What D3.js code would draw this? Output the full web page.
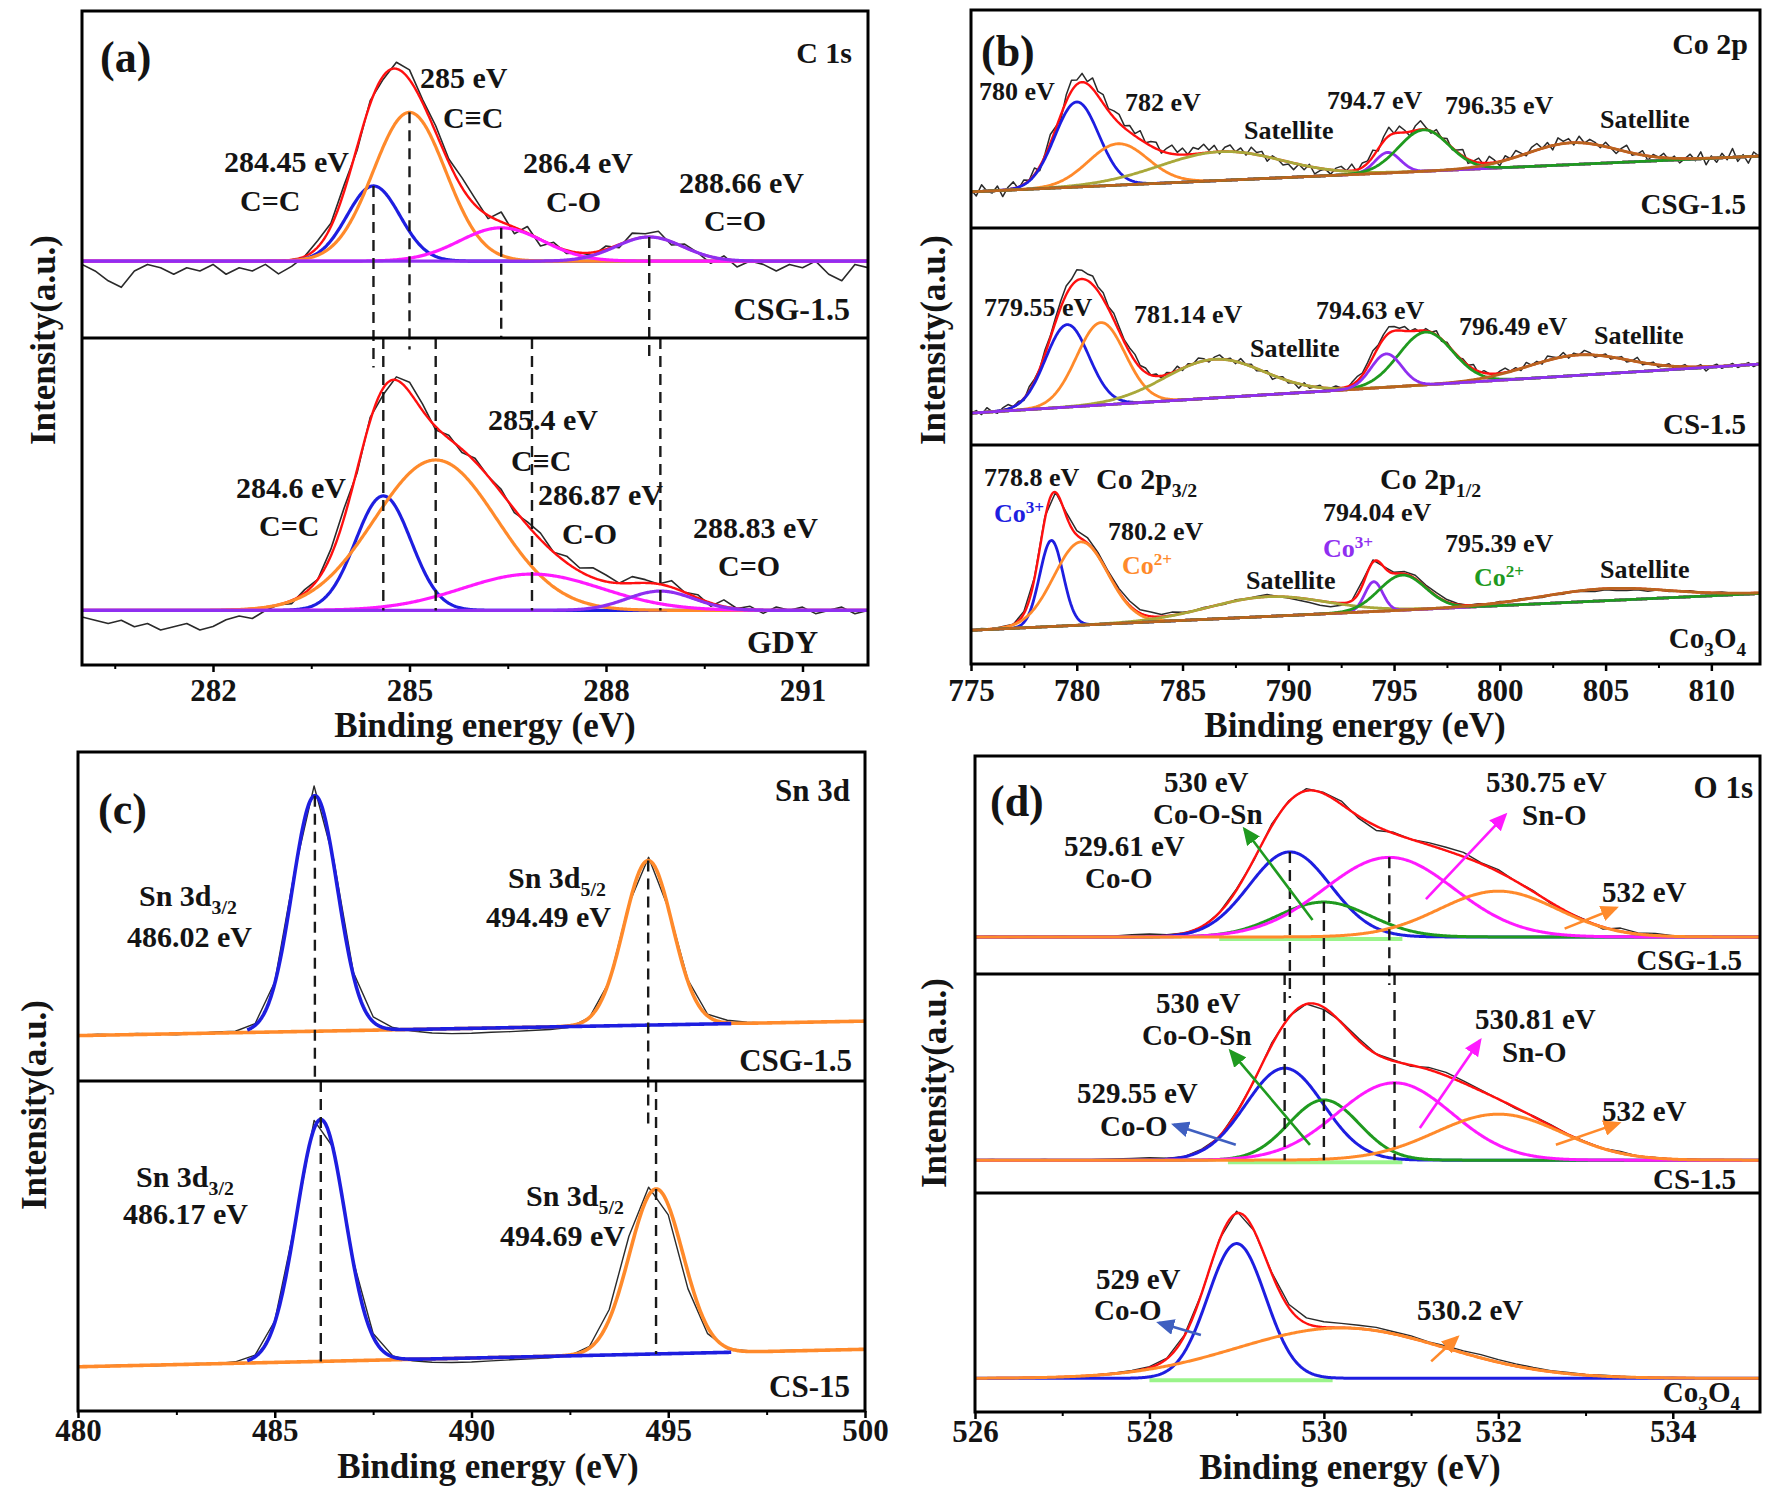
<!DOCTYPE html>
<html>
<head>
<meta charset="utf-8">
<script src="https://cdn.jsdelivr.net/npm/d3@7"></script>
<style>
  body { margin: 0; background: #fff; }
  text { font-family: "Liberation Serif", "Times New Roman", serif; font-weight: bold; }
</style>
</head>
<body>
<script>
var W = 1772, H = 1489;

// colours used by the fits
var BLUE = '#1e1ee0', ORANGE = '#ff8a2b', MAGENTA = '#ff1aff', PURPLE = '#8f2ff0',
    GREEN = '#1f9a1f', OLIVE = '#a9a83a', BROWN = '#b9641f', RED = '#ff1010',
    LIME = '#9af48a', ARROWBLUE = '#3f5fc0', INK = '#141414';

// ---------- (a) C 1s ----------
var c1sDomain = [280, 292];
var c1sTicks = [282, 285, 288, 291];
var c1sMinor = [280.5, 283.5, 286.5, 289.5];
// peaks: [centre eV, height %, fwhm eV]
var c1sCSGBase = [23.5, 23.5];
var c1sCSGPeaks = [[284.45, 23, 0.95], [285.0, 45.5, 1.3], [286.4, 10.2, 1.5], [288.66, 7.4, 1.2]];
var c1sGDYBase = [16.7, 16.7];
var c1sGDYPeaks = [[284.6, 35, 1.0], [285.4, 46, 2.2], [286.87, 11.1, 2.5], [288.83, 5.9, 1.2]];
var c1sColors = [BLUE, ORANGE, MAGENTA, PURPLE];
// raw minus fit, every 0.2 eV
var c1sCSGNoise = [-1,-3,-6,-8,-3,-1,-2,-4,-2,-3,
  -1,-4,-2,-3,-1,-4,-2,0,2,1,
  2,-1,1,-1,2,3,1,2,1,3,
  2,-1,3,-2,2,-2,1,-1,0,-1,
  1,-1,2,1,2,-1,1,0,-2,1,
  -2,0,-1,-3,-1,-2,0,-4,-6,-1,
  -2];
var c1sGDYNoise = [-2,-3,-4,-3,-5,-4,-6,-5,-4,-6,
  -5,-3,-2,-3,-1,0,-1,1,0,2,
  3,-1,1,-2,1,3,2,-1,1,-1,
  1,0,1,-1,1,2,0,2,1,3,
  2,0,2,1,0,2,0,1,-1,2,
  0,1,-1,1,0,1,-1,0,1,-1,
  0];
var c1sCSGDashEnd = [-9, -3.5, 0, -5.5];

// ---------- (b) Co 2p ----------
var co2pDomain = [775, 812.3];
var co2pTicks = [775, 780, 785, 790, 795, 800, 805, 810];
var co2pMinor = [777.5, 782.5, 787.5, 792.5, 797.5, 802.5, 807.5];
var co2pCSGBase = [16.6, 33.0];
var co2pCSGPeaks = [[780.0, 39, 2.45], [781.95, 19, 3.3], [786.8, 13.2, 6.8], [794.7, 9.4, 1.4], [796.4, 19, 2.8], [803.4, 10, 5.0]];
var co2pCSBase = [14.7, 37.3];
var co2pCSPeaks = [[779.55, 38, 2.4], [781.14, 38, 2.7], [786.5, 17.8, 5.5], [794.63, 15.4, 1.7], [796.49, 24.3, 3.0], [803.7, 9.4, 5.5]];
var co2pCoBase = [15.4, 32.2];
var co2pCoPeaks = [[778.8, 39.3, 1.3], [780.2, 38, 3.0], [789.0, 9, 6.5], [794.04, 13.6, 1.0], [795.39, 16, 2.6], [805.0, 5.5, 7.0]];
var co2pColors = [BLUE, ORANGE, OLIVE, PURPLE, GREEN, BROWN];
// raw minus fit, every 0.25 eV
var co2pCSGNoise = [1,-2,3,0,-1,2,-3,1,3,-1,2,0,3,-2,1,
  4,1,-2,3,5,2,4,1,5,2,4,1,3,4,1,
  3,1,4,0,2,3,-1,2,4,1,3,0,3,2,4,
  1,3,-1,2,3,0,2,-1,3,1,2,-2,1,0,-2,
  -1,-3,0,-2,1,-3,-1,0,-2,1,2,0,3,-1,2,
  1,3,-1,2,4,0,3,1,-2,2,4,1,-1,2,0,
  2,-1,1,3,-2,0,2,-1,3,1,-2,2,0,3,1,
  -1,2,3,0,2,-2,3,1,2,-1,3,0,2,1,-1,
  2,0,-2,1,3,-1,0,2,-2,1,0,2,-1,1,-2,
  0,2,-1,3,-3,1,-2,2,-1,4,-2,1,-3,2,0];
var co2pCSNoise = [0,1,-1,2,0,-1,1,2,0,1,-1,2,1,0,2,
  1,2,3,4,3,5,4,3,4,2,3,1,3,2,1,
  2,3,1,2,0,1,-1,1,0,2,-1,1,0,2,1,
  -1,1,2,0,1,-1,2,0,1,-1,0,1,-2,0,1,
  -1,0,-2,1,-1,0,1,-1,0,1,0,-1,1,2,1,
  2,3,1,2,3,2,1,2,0,1,-1,1,0,2,-1,
  1,0,-1,1,0,2,-1,1,0,-1,1,2,0,1,-1,
  2,0,1,-1,2,1,0,2,-1,1,0,2,1,-1,0,
  1,-1,0,1,-1,0,2,-1,0,1,-1,0,1,-1,0,
  1,-1,0,1,-2,0,1,-1,0,1,-1,0,1,-1,0];
// every 0.5 eV
var co2pCoNoise = [0,0.5,0,0.5,0,1,0.5,1,0,1.5,
  2,2.5,1.5,1,1.5,2,1.5,2,1,1.5,
  0.5,0,0.5,0,-0.5,0.5,0,0.5,1,0,
  -0.5,-1,-1.5,-2,-2,-1,0,2,1,0,
  0.5,1,1.5,1,1.5,1,0.5,0,0.5,0,
  0.5,0,0.5,0,-0.5,0,-0.5,0,-0.5,-1,
  -0.5,-1,-1,-0.5,-1,0,-0.5,0,0.5,0,
  0,0.5,0,0,0,0];

// ---------- (c) Sn 3d ----------
var sn3dDomain = [480, 500];
var sn3dTicks = [480, 485, 490, 495, 500];
var sn3dMinor = [482.5, 487.5, 492.5, 497.5];
var sn3dCSGBase = [13.8, 18.2];
var sn3dCSGPeaks = [[486.02, 71.6, 1.35], [494.49, 50, 1.45]];
var sn3dCSBase = [13.4, 18.7];
var sn3dCSPeaks = [[486.17, 73.3, 1.45], [494.69, 50, 1.6]];
var sn3dColors = [BLUE, ORANGE];
var sn3dRanges = [[484.3, 496.6], [480, 500]];
// every 0.5 eV
var sn3dCSGNoise = [0,0.3,0,0.3,0,-0.3,0,0.3,0.3,0.5,
  0.5,1,3,1.5,1,1.5,0.5,-0.5,-1.2,-1.5,
  -1.5,-1.3,-1.2,-1,-0.8,-0.5,0,-0.3,0.5,1,
  0,0.5,0.5,0.8,0.3,0,0.2,-0.2,0,0.2,
  0];
var sn3dCSNoise = [0,0,0.2,0,-0.2,0,0.2,0,0.3,0.5,
  0.5,0.5,2.5,1,0.5,1,0.3,-0.5,-1,-1.2,
  -1.2,-1,-0.8,-0.6,-0.5,-0.2,0.5,3,6,2.5,
  -3,-5,-2,-0.3,0.2,0,0.2,0.3,0,0.2,
  0];
var sn3dCSGDashEnd = [0, -14];

// ---------- (d) O 1s ----------
var o1sDomain = [526, 535];
var o1sTicks = [526, 528, 530, 532, 534];
var o1sMinor = [527, 529, 531, 533];
var o1sCSGBase = [17, 17];
var o1sCSGPeaks = [[529.61, 39, 1.1], [530.0, 16, 1.25], [530.75, 36.5, 1.75], [532.0, 21, 1.6]];
var o1sCSBase = [15, 15];
var o1sCSPeaks = [[529.55, 42, 1.05], [530.0, 27.5, 0.95], [530.81, 35.3, 1.55], [532.0, 21, 1.7]];
var o1sCoBase = [15.4, 15.4];
var o1sCoPeaks = [[529.0, 61.5, 0.78], [530.2, 23, 2.8]];
var o1sColors = [BLUE, GREEN, MAGENTA, ORANGE];
var o1sCoColors = [BLUE, ORANGE];
var o1sBands = [[528.8, 530.9], [528.9, 530.9], [528.0, 530.1]];
// every 0.2 eV
var o1sCSGNoise = [0,0.5,-0.5,0.3,0,0.3,0,0.3,0.5,1,
  1.2,0.5,0,-0.5,0,0.5,-0.5,1,0.5,1,
  0.5,1.5,-1,-2,0.5,0,1,1.5,2,0.5,
  1,0,0.5,-0.5,0,0.3,-1,1.5,0.5,1,
  0.3,0,0.3,0,0.2,0];
var o1sCSNoise = [0,0.3,-0.3,0,0.3,-0.3,0,0.3,0.5,0.8,
  1,0.5,0,0.5,-0.5,0.5,-0.5,1,0.5,0,
  -1,0.5,1,0,0.5,-0.5,1,1.5,1,0.5,
  0,-0.5,0.3,0.5,0,0.3,0,0.8,0,0.3,
  0,0.2,0,0.2,0,0];
var o1sCoNoise = [0,0,0,0,0,0,0,0.2,0.3,0.5,
  0.5,0.3,0.5,0,0.5,1,0,0.5,1.5,2.5,
  2.5,2,1.5,1.5,1,1,0.5,1,1,1.5,
  1.2,1,0.8,0.5,0.5,0.3,0.5,0.3,0.2,0,
  0.2,0,0.1,0,0,0];
var o1sCSGDashEnd = [-11, 0, -5, null];
// arrows: [from eV, from %, to eV, to %]
var o1sCSGArrows = [[529.87, 24.8, 529.09, 66.4], [531.17, 34.3, 532.08, 73], [532.76, 20.8, 533.35, 30.3]];
var o1sCSArrows = [[529.84, 22, 528.93, 64.8], [531.10, 29.7, 531.79, 69.7], [532.66, 22, 533.38, 31.9], [528.99, 22, 528.28, 31.2]];
var o1sCoArrows = [[528.59, 35.2, 528.11, 40.7], [531.23, 23.1, 531.53, 34.1]];

// ---------- annotation texts: [x, y, text, anchor, size, colour] ----------
var c1sLabels = [
  [100, 57, '(a)', 'start', 44], [852, 52, 'C 1s', 'end', 30],
  [420, 77, '285 eV'], [443, 117, 'C≡C'], [224, 161, '284.45 eV'], [240, 200, 'C=C'],
  [523, 162, '286.4 eV'], [546, 201, 'C-O'], [679, 182, '288.66 eV'], [704, 220, 'C=O'],
  [850, 309, 'CSG-1.5', 'end', 32],
  [488, 419, '285.4 eV'], [511, 460, 'C≡C'], [236, 487, '284.6 eV'], [259, 525, 'C=C'],
  [538, 494, '286.87 eV'], [562, 533, 'C-O'], [693, 527, '288.83 eV'], [718, 565, 'C=O'],
  [818, 642, 'GDY', 'end', 32]
];
var co2pLabels = [
  [981, 51, '(b)', 'start', 44], [1748, 43, 'Co 2p', 'end', 30],
  [979, 91, '780 eV'], [1125, 102, '782 eV'], [1244, 130, 'Satellite'], [1327, 100, '794.7 eV'],
  [1445, 105, '796.35 eV'], [1600, 119, 'Satellite'], [1746, 204, 'CSG-1.5', 'end', 29],
  [984, 307, '779.55 eV'], [1134, 314, '781.14 eV'], [1250, 348, 'Satellite'], [1316, 310, '794.63 eV'],
  [1459, 326, '796.49 eV'], [1594, 335, 'Satellite'], [1746, 424, 'CS-1.5', 'end', 29],
  [984, 477, '778.8 eV'], [1096, 478, 'Co 2p_{3/2}', 'start', 30], [994, 513, 'Co^{3+}', 'start', 26, BLUE],
  [1108, 531, '780.2 eV'], [1122, 565, 'Co^{2+}', 'start', 26, ORANGE], [1246, 580, 'Satellite'],
  [1380, 478, 'Co 2p_{1/2}', 'start', 30], [1323, 512, '794.04 eV'], [1323, 548, 'Co^{3+}', 'start', 26, PURPLE],
  [1445, 543, '795.39 eV'], [1474, 577, 'Co^{2+}', 'start', 26, GREEN], [1600, 569, 'Satellite'],
  [1746, 638, 'Co_{3}O_{4}', 'end', 29]
];
var sn3dLabels = [
  [98, 809, '(c)', 'start', 44], [850, 790, 'Sn 3d', 'end', 31],
  [139, 895, 'Sn 3d_{3/2}'], [127, 936, '486.02 eV'], [508, 877, 'Sn 3d_{5/2}'], [486, 916, '494.49 eV'],
  [852, 1060, 'CSG-1.5', 'end', 31],
  [136, 1176, 'Sn 3d_{3/2}'], [123, 1213, '486.17 eV'], [526, 1195, 'Sn 3d_{5/2}'], [500, 1235, '494.69 eV'],
  [850, 1386, 'CS-15', 'end', 31]
];
var o1sLabels = [
  [990, 801, '(d)', 'start', 44], [1753, 787, 'O 1s', 'end', 31],
  [1164, 782, '530 eV'], [1153, 814, 'Co-O-Sn'], [1064, 846, '529.61 eV'], [1085, 878, 'Co-O'],
  [1486, 782, '530.75 eV'], [1522, 815, 'Sn-O'], [1602, 892, '532 eV'], [1742, 960, 'CSG-1.5', 'end', 29],
  [1156, 1003, '530 eV'], [1142, 1035, 'Co-O-Sn'], [1077, 1093, '529.55 eV'], [1100, 1126, 'Co-O'],
  [1475, 1019, '530.81 eV'], [1502, 1052, 'Sn-O'], [1602, 1111, '532 eV'], [1736, 1179, 'CS-1.5', 'end', 29],
  [1096, 1279, '529 eV'], [1094, 1310, 'Co-O'], [1417, 1310, '530.2 eV'], [1740, 1392, 'Co_{3}O_{4}', 'end', 29]
];

var svg = d3.select('body').append('svg').attr('width', W).attr('height', H);
var defs = svg.append('defs');

function gauss(e, p) {
  return p[1] * Math.exp(-4 * Math.LN2 * (e - p[0]) * (e - p[0]) / (p[2] * p[2]));
}

var markerIds = {};
function arrowMarker(color) {
  if (markerIds[color]) return markerIds[color];
  var id = 'arr' + Object.keys(markerIds).length;
  defs.append('marker').attr('id', id).attr('markerUnits', 'userSpaceOnUse')
    .attr('markerWidth', 20).attr('markerHeight', 16).attr('refX', 15).attr('refY', 8)
    .attr('orient', 'auto')
    .append('path').attr('d', 'M0,0 L18,8 L0,16 Z').attr('fill', color);
  markerIds[color] = id;
  return id;
}

function rich(t, str, size) {
  var parts = str.split(/([_^]\{[^}]*\})/).filter(function(s) { return s.length; });
  var cur = 0;
  parts.forEach(function(s) {
    var off = 0, fs = size, txt = s;
    if (s[0] === '_' && s[1] === '{') { off = 0.28 * size; fs = 0.66 * size; txt = s.slice(2, -1); }
    else if (s[0] === '^' && s[1] === '{') { off = -0.36 * size; fs = 0.66 * size; txt = s.slice(2, -1); }
    t.append('tspan').attr('dy', off - cur).style('font-size', fs + 'px').text(txt);
    cur = off;
  });
}

function drawLabels(labels, defSize) {
  labels.forEach(function(l) {
    var size = l[4] || defSize;
    var t = svg.append('text').attr('x', l[0]).attr('y', l[1] + 0.35 * size)
      .attr('text-anchor', l[3] || 'start').attr('fill', l[5] || INK)
      .style('font-size', size + 'px');
    rich(t, l[2], size);
  });
}

function drawPanel(p) {
  var g = svg.append('g');
  var top = p.rows[0], bottom = p.rows[p.rows.length - 1];
  var x = d3.scaleLinear().domain(p.domain).range([p.left, p.right]);
  var clipId = 'clip' + p.id;
  defs.append('clipPath').attr('id', clipId).append('rect')
    .attr('x', p.left).attr('y', top).attr('width', p.right - p.left).attr('height', bottom - top);
  var plot = g.append('g').attr('clip-path', 'url(#' + clipId + ')');
  var grid = d3.range(p.domain[0], p.domain[1] + 1e-9, (p.domain[1] - p.domain[0]) / 800);

  p.spectra.forEach(function(s, i) {
    var y = d3.scaleLinear().domain([0, 100]).range([p.rows[i + 1], p.rows[i]]);
    var base = function(e) {
      return s.base[0] + (s.base[1] - s.base[0]) * (e - p.domain[0]) / (p.domain[1] - p.domain[0]);
    };
    var fit = function(e) { return base(e) + d3.sum(s.peaks, function(pk) { return gauss(e, pk); }); };
    var line = d3.line().x(function(d) { return x(d[0]); }).y(function(d) { return y(d[1]); });

    if (s.band) {
      plot.append('path').attr('d', line([[s.band[0], base(s.band[0])], [s.band[1], base(s.band[1])]]))
        .attr('transform', 'translate(0,2)')
        .attr('stroke', LIME).attr('stroke-width', 4).attr('fill', 'none');
    }

    var step = s.noiseStep || p.noiseStep;
    var raw = s.noise.map(function(n, k) {
      var e = p.noiseStart + k * step;
      return [e, fit(e) + n];
    });
    plot.append('path').attr('d', line(raw)).attr('fill', 'none')
      .attr('stroke', '#2a2a2a').attr('stroke-width', p.rawWidth).attr('stroke-linejoin', 'round');

    if (p.envelope) {
      plot.append('path').attr('d', line(grid.map(function(e) { return [e, fit(e)]; })))
        .attr('fill', 'none').attr('stroke', RED).attr('stroke-width', 2.4);
    }

    var order = s.order || d3.range(s.peaks.length);
    order.forEach(function(j) {
      var pk = s.peaks[j];
      var r = (s.ranges && s.ranges[j]) || p.domain;
      var pts = grid.filter(function(e) { return e >= r[0] && e <= r[1]; })
        .map(function(e) { return [e, base(e) + gauss(e, pk)]; });
      plot.append('path').attr('d', line(pts)).attr('fill', 'none')
        .attr('stroke', s.colors[j]).attr('stroke-width', p.fitWidth).attr('stroke-linejoin', 'round');
    });

    // dashed guide lines at the peak centres
    if (s.dashEnd) {
      s.peaks.forEach(function(pk, j) {
        if (s.dashEnd[j] === null || s.dashEnd[j] === undefined) return;
        plot.append('line').attr('x1', x(pk[0])).attr('x2', x(pk[0]))
          .attr('y1', y(base(pk[0]) + pk[1])).attr('y2', y(s.dashEnd[j]))
          .attr('stroke', '#1a1a1a').attr('stroke-width', 2.4).attr('stroke-dasharray', '11,7');
      });
    }
    if (s.dashAll) {
      s.dashAll.forEach(function(j) {
        var c = s.peaks[j][0];
        plot.append('line').attr('x1', x(c)).attr('x2', x(c))
          .attr('y1', y(100)).attr('y2', y(base(c)))
          .attr('stroke', '#1a1a1a').attr('stroke-width', 2.4).attr('stroke-dasharray', '11,7');
      });
    }

    if (s.arrows) {
      s.arrows.forEach(function(a, k) {
        var col = s.arrowColors[k];
        g.append('line').attr('x1', x(a[0])).attr('y1', y(a[1])).attr('x2', x(a[2])).attr('y2', y(a[3]))
          .attr('stroke', col).attr('stroke-width', 2.6)
          .attr('marker-end', 'url(#' + arrowMarker(col) + ')');
      });
    }
  });

  // frame and row dividers
  g.append('rect').attr('x', p.left).attr('y', top).attr('width', p.right - p.left).attr('height', bottom - top)
    .attr('fill', 'none').attr('stroke', '#000').attr('stroke-width', 3);
  p.rows.slice(1, -1).forEach(function(r) {
    g.append('line').attr('x1', p.left).attr('x2', p.right).attr('y1', r).attr('y2', r)
      .attr('stroke', '#000').attr('stroke-width', 3);
  });

  // x axis
  var minor = g.append('g').attr('transform', 'translate(0,' + bottom + ')')
    .call(d3.axisBottom(x).tickValues(p.minor).tickSize(4).tickFormat(''));
  minor.select('.domain').remove();
  minor.selectAll('line').attr('stroke', '#000').attr('stroke-width', 2);
  var ax = g.append('g').attr('transform', 'translate(0,' + bottom + ')')
    .call(d3.axisBottom(x).tickValues(p.ticks).tickSize(7).tickFormat(d3.format('d')));
  ax.attr('font-family', null).attr('font-size', null);
  ax.select('.domain').remove();
  ax.selectAll('line').attr('stroke', '#000').attr('stroke-width', 2.5);
  ax.selectAll('text').attr('y', p.tickY - bottom).attr('dy', '0.35em')
    .attr('fill', INK).style('font-size', '31px');

  svg.append('text').attr('x', p.titleX).attr('y', p.titleY + 0.35 * 35).attr('text-anchor', 'middle')
    .attr('fill', INK).style('font-size', '35px').text('Binding energy (eV)');
  svg.append('text').attr('transform', 'translate(' + (p.yTitle[0] + 0.35 * 35) + ',' + p.yTitle[1] + ') rotate(-90)')
    .attr('text-anchor', 'middle').attr('fill', INK).style('font-size', '35px').text('Intensity(a.u.)');
}

drawPanel({
  id: 'a', domain: c1sDomain, ticks: c1sTicks, minor: c1sMinor,
  left: 82, right: 868, rows: [11, 338, 665], tickY: 690, titleX: 485, titleY: 725, yTitle: [43, 340],
  noiseStart: 280, noiseStep: 0.2, envelope: true, fitWidth: 3.2, rawWidth: 1.6,
  spectra: [
    { base: c1sCSGBase, peaks: c1sCSGPeaks, colors: c1sColors, noise: c1sCSGNoise, dashEnd: c1sCSGDashEnd },
    { base: c1sGDYBase, peaks: c1sGDYPeaks, colors: c1sColors, noise: c1sGDYNoise, dashAll: [0, 1, 2, 3] }
  ]
});

drawPanel({
  id: 'b', domain: co2pDomain, ticks: co2pTicks, minor: co2pMinor,
  left: 971, right: 1760, rows: [10, 228, 445, 664], tickY: 690, titleX: 1355, titleY: 725, yTitle: [933, 340],
  noiseStart: 775, noiseStep: 0.25, envelope: true, fitWidth: 2.8, rawWidth: 1.5,
  spectra: [
    { base: co2pCSGBase, peaks: co2pCSGPeaks, colors: co2pColors, noise: co2pCSGNoise },
    { base: co2pCSBase, peaks: co2pCSPeaks, colors: co2pColors, noise: co2pCSNoise, order: [0, 1, 2, 4, 5, 3] },
    { base: co2pCoBase, peaks: co2pCoPeaks, colors: co2pColors, noise: co2pCoNoise, noiseStep: 0.5 }
  ]
});

drawPanel({
  id: 'c', domain: sn3dDomain, ticks: sn3dTicks, minor: sn3dMinor,
  left: 78, right: 865, rows: [752, 1081, 1411], tickY: 1430, titleX: 488, titleY: 1466, yTitle: [34, 1105],
  noiseStart: 480, noiseStep: 0.5, envelope: false, fitWidth: 3.6, rawWidth: 1.4,
  spectra: [
    { base: sn3dCSGBase, peaks: sn3dCSGPeaks, colors: sn3dColors, noise: sn3dCSGNoise,
      ranges: sn3dRanges, order: [1, 0], dashEnd: sn3dCSGDashEnd },
    { base: sn3dCSBase, peaks: sn3dCSPeaks, colors: sn3dColors, noise: sn3dCSNoise,
      ranges: sn3dRanges, order: [1, 0], dashAll: [0, 1] }
  ]
});

drawPanel({
  id: 'd', domain: o1sDomain, ticks: o1sTicks, minor: o1sMinor,
  left: 975, right: 1760, rows: [756, 974, 1193, 1412], tickY: 1431, titleX: 1350, titleY: 1467, yTitle: [934, 1083],
  noiseStart: 526, noiseStep: 0.2, envelope: true, fitWidth: 3, rawWidth: 1.4,
  spectra: [
    { base: o1sCSGBase, peaks: o1sCSGPeaks, colors: o1sColors, noise: o1sCSGNoise, band: o1sBands[0],
      dashEnd: o1sCSGDashEnd, arrows: o1sCSGArrows, arrowColors: [GREEN, MAGENTA, ORANGE] },
    { base: o1sCSBase, peaks: o1sCSPeaks, colors: o1sColors, noise: o1sCSNoise, band: o1sBands[1],
      dashAll: [0, 1, 2], arrows: o1sCSArrows, arrowColors: [GREEN, MAGENTA, ORANGE, ARROWBLUE] },
    { base: o1sCoBase, peaks: o1sCoPeaks, colors: o1sCoColors, noise: o1sCoNoise, band: o1sBands[2],
      arrows: o1sCoArrows, arrowColors: [ARROWBLUE, ORANGE] }
  ]
});

drawLabels(c1sLabels, 30);
drawLabels(co2pLabels, 26);
drawLabels(sn3dLabels, 30);
drawLabels(o1sLabels, 29);
</script>
</body>
</html>
